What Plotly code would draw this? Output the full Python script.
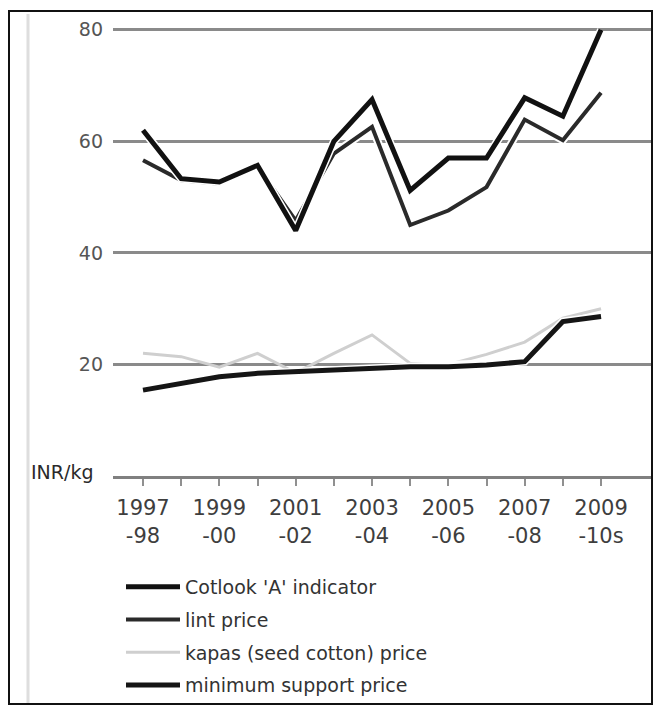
import plotly.graph_objects as go

seasons = ["1997-98", "1998-99", "1999-00", "2000-01", "2001-02", "2002-03", "2003-04",
           "2004-05", "2005-06", "2006-07", "2007-08", "2008-09", "2009-10"]
tick_labels = ["1997<br>-98", "", "1999<br>-00", "", "2001<br>-02", "", "2003<br>-04",
               "", "2005<br>-06", "", "2007<br>-08", "", "2009<br>-10s"]

cotlook_a = [62.0, 53.3, 52.7, 55.7, 44.0, 60.0, 67.5, 51.2, 57.0, 57.0, 67.8, 64.5, 80.0]
lint_price = [56.6, 53.0, 52.4, 55.5, 45.8, 57.8, 62.6, 45.0, 47.6, 51.8, 63.9, 60.2, 68.7]
kapas_price = [22.0, 21.4, 19.5, 22.0, 18.5, 22.0, 25.3, 20.2, 20.0, 21.8, 24.0, 28.3, 30.0]
msp_price = [15.4, 16.6, 17.8, 18.4, 18.7, 19.0, 19.3, 19.6, 19.6, 19.9, 20.5, 27.7, 28.6]
y_ticks = [20, 40, 60, 80]

FONT = "DejaVu Sans, Liberation Sans, sans-serif"

fig = go.Figure()

def halo(y):
    fig.add_trace(go.Scatter(x=seasons, y=y, mode="lines", showlegend=False, hoverinfo="skip",
                             line=dict(color="white", width=8)))

fig.add_trace(go.Scatter(x=seasons, y=kapas_price, mode="lines", name="kapas (seed cotton) price",
                         legendgroup="c", legendrank=3, line=dict(color="#cfcfcf", width=3)))
halo(msp_price)
fig.add_trace(go.Scatter(x=seasons, y=msp_price, mode="lines", name="minimum support price",
                         legendgroup="d", legendrank=4, line=dict(color="#151515", width=5)))
halo(lint_price)
fig.add_trace(go.Scatter(x=seasons, y=lint_price, mode="lines", name="lint price",
                         legendgroup="b", legendrank=2, line=dict(color="#2a2a2a", width=4)))
halo(cotlook_a)
fig.add_trace(go.Scatter(x=seasons, y=cotlook_a, mode="lines", name="Cotlook 'A' indicator",
                         legendgroup="a", legendrank=1, line=dict(color="#111111", width=5)))

# the page body has an 8px margin on every side; keep the figure (and legend) inside the window
OFF = 8
W, H = 661 - 2 * OFF, 713 - 2 * OFF
L, R, T, B = 105, 1, 19, 229
pw = W - L - R
ph = H - T - B

def px_x(px):
    return (min(px - OFF, W - 1) - L) / pw

def px_y(py):
    return (H - B - min(py - OFF, H - 1)) / ph

fig.update_layout(
    width=W, height=H,
    margin=dict(l=L, r=R, t=T, b=B),
    paper_bgcolor="white", plot_bgcolor="white",
    font=dict(family=FONT, color="#444444", size=18),
    showlegend=True,
    legend=dict(x=px_x(121), y=px_y(568), xanchor="left", yanchor="top",
                traceorder="grouped", tracegroupgap=5,
                font=dict(family=FONT, size=19, color="#333333"),
                bgcolor="rgba(0,0,0,0)", itemwidth=54),
    xaxis=dict(type="category", categoryorder="array", categoryarray=seasons,
               range=[-0.786, 13.335], tickmode="array", tickvals=seasons, ticktext=tick_labels,
               showgrid=False, zeroline=False, showline=True, linecolor="#808080", linewidth=3,
               ticks="outside", ticklen=7, tickwidth=2, tickcolor="#909090",
               ticklabelstandoff=4,
               tickfont=dict(family=FONT, size=21, color="#3e3e3e"), tickangle=0),
    yaxis=dict(range=[0, 80.5], tickmode="array", tickvals=y_ticks,
               showgrid=True, gridcolor="#8a8a8a", gridwidth=3, zeroline=False, showline=False,
               ticks="", ticklabelstandoff=9,
               tickfont=dict(family=FONT, size=19, color="#555555")),
)

fig.add_annotation(text="INR/kg", xref="paper", yref="paper", x=px_x(29), y=0, yshift=4,
                   xanchor="left", yanchor="middle", showarrow=False,
                   font=dict(family=FONT, size=19, color="#2a2a2a"))

fig.add_shape(type="line", xref="paper", yref="paper", x0=px_x(28), x1=px_x(28),
              y0=px_y(14), y1=px_y(708), line=dict(color="#dedede", width=3), layer="below")
fig.add_shape(type="rect", xref="paper", yref="paper", x0=px_x(9), x1=px_x(657),
              y0=px_y(11), y1=px_y(711), line=dict(color="#111111", width=2))

fig.write_html("out.html")
